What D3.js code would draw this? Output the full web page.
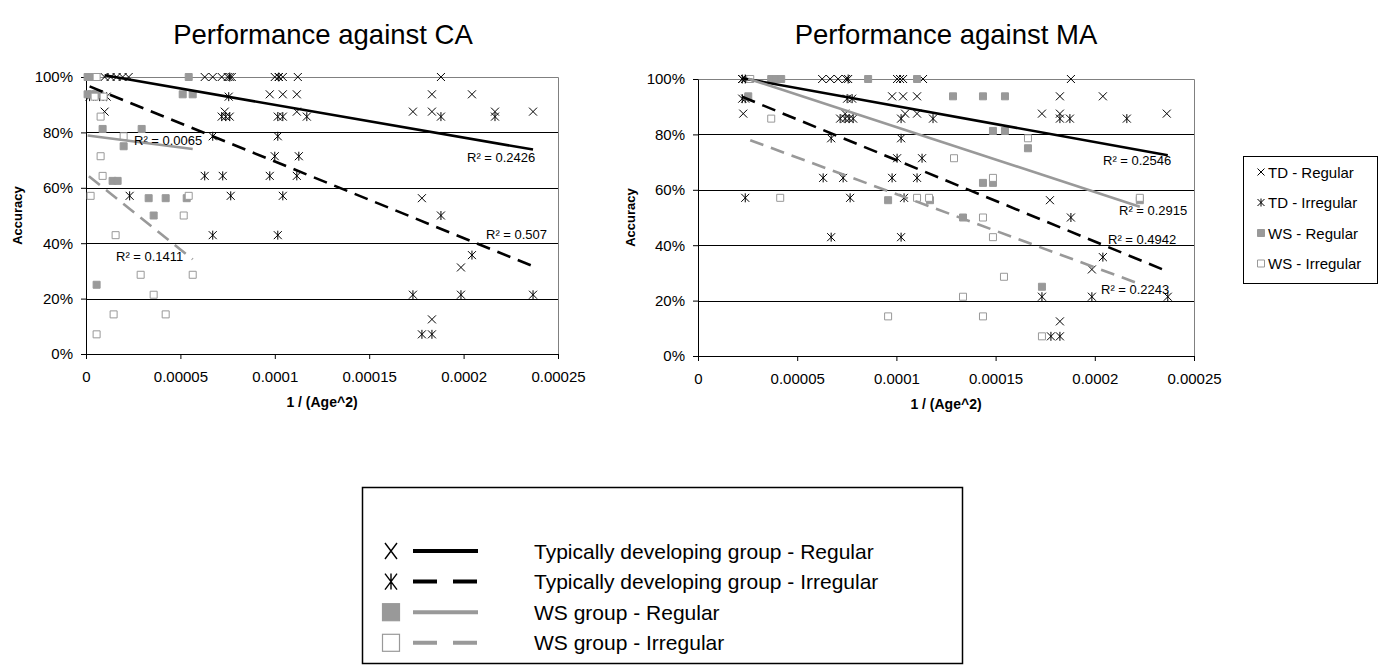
<!DOCTYPE html>
<html><head><meta charset="utf-8">
<script src="https://cdn.jsdelivr.net/npm/d3@7"></script>
<style>
body{margin:0;background:#fff}
svg{display:block}
text{font-family:"Liberation Sans",Arial,sans-serif;fill:#000}
</style>
</head><body>
<svg id="c" width="1389" height="671"></svg>
<script>
// ---------------- DATA ----------------
const chartTitles = ["Performance against CA", "Performance against MA"];
const xAxisTitle = "1 / (Age^2)";
const yAxisTitle = "Accuracy";
const xTicks = [0, 0.00005, 0.0001, 0.00015, 0.0002, 0.00025];
const xTickLabels = ["0", "0.00005", "0.0001", "0.00015", "0.0002", "0.00025"];
const yTicks = [0, 0.2, 0.4, 0.6, 0.8, 1];
const yTickLabels = ["0%", "20%", "40%", "60%", "80%", "100%"];
const seriesShort = ["TD - Regular", "TD - Irregular", "WS - Regular", "WS - Irregular"];
const seriesLong = ["Typically developing group - Regular", "Typically developing group - Irregular",
                    "WS group - Regular", "WS group - Irregular"];

// Performance against CA : [1/(age^2), accuracy]
const caTdRegular = [
  [0.986e-5,1],[1.304e-5,1],[1.622e-5,1],[1.941e-5,1],[2.259e-5,1],
  [6.288e-5,1],[6.712e-5,1],[7.189e-5,1],[7.507e-5,1],[7.719e-5,1],
  [9.999e-5,1],[10.211e-5,1],[10.424e-5,1],[11.219e-5,1],[18.800e-5,1],
  [9.734e-5,0.9375],[10.424e-5,0.9375],[11.166e-5,0.9375],[18.323e-5,0.9375],[20.443e-5,0.9375],
  [0.986e-5,0.875],[7.348e-5,0.875],[11.166e-5,0.875],[17.316e-5,0.875],[18.323e-5,0.875],[21.663e-5,0.875],[23.678e-5,0.875],
  [17.793e-5,0.5625],[19.860e-5,0.3125],[18.323e-5,0.125]
];
const caTdIrregular = [
  [7.613e-5,1],[10.211e-5,1],
  [0.191e-5,0.929],[0.721e-5,0.929],[1.092e-5,0.929],[7.560e-5,0.929],
  [7.189e-5,0.857],[7.401e-5,0.857],[7.613e-5,0.857],[10.158e-5,0.857],[10.424e-5,0.857],[11.696e-5,0.857],[18.800e-5,0.857],[21.663e-5,0.857],
  [6.712e-5,0.786],[10.158e-5,0.786],
  [9.999e-5,0.714],[11.272e-5,0.714],
  [6.288e-5,0.643],[7.242e-5,0.643],[9.734e-5,0.643],[11.166e-5,0.643],
  [2.312e-5,0.571],[7.666e-5,0.571],[10.424e-5,0.571],
  [18.800e-5,0.5],
  [6.712e-5,0.429],[10.158e-5,0.429],
  [20.443e-5,0.357],
  [17.316e-5,0.214],[19.860e-5,0.214],[23.678e-5,0.214],
  [17.793e-5,0.071],[18.323e-5,0.071]
];
const caWsRegular = [
  [0.085e-5,1],[0.297e-5,1],[0.456e-5,1],[5.440e-5,1],
  [0.085e-5,0.9375],[0.297e-5,0.9375],[0.509e-5,0.9375],[0.721e-5,0.9375],[5.122e-5,0.9375],[5.652e-5,0.9375],
  [0.880e-5,0.8125],[2.948e-5,0.8125],
  [1.994e-5,0.75],
  [1.410e-5,0.625],[1.675e-5,0.625],
  [3.319e-5,0.5625],[4.220e-5,0.5625],[5.334e-5,0.5625],
  [3.584e-5,0.5],
  [0.562e-5,0.25]
];
const caWsIrregular = [
  [0.562e-5,1],
  [0.456e-5,0.929],[0.933e-5,0.929],
  [0.774e-5,0.857],
  [1.994e-5,0.786],
  [0.774e-5,0.714],
  [0.880e-5,0.643],
  [0.244e-5,0.571],[5.440e-5,0.571],
  [5.175e-5,0.5],
  [1.569e-5,0.429],
  [2.895e-5,0.286],[5.652e-5,0.286],
  [3.584e-5,0.214],
  [1.463e-5,0.143],[4.220e-5,0.143],
  [0.562e-5,0.071]
];
// linear trendlines [xStart, yStart, xEnd, yEnd] and R^2
const caTrends = [
  [0.986e-5, 1.006, 23.678e-5, 0.738],
  [0.191e-5, 0.966, 23.678e-5, 0.317],
  [0.085e-5, 0.789, 5.652e-5, 0.740],
  [0.154e-5, 0.642, 5.652e-5, 0.342]
];
const caR2 = ["0.2426", "0.507", "0.0065", "0.1411"];

// Performance against MA
const maTdRegular = [
  [2.231e-5,1],[2.382e-5,1],[6.258e-5,1],[6.661e-5,1],[7.064e-5,1],[7.467e-5,1],
  [10.035e-5,1],[10.186e-5,1],[10.337e-5,1],[11.343e-5,1],[18.796e-5,1],
  [9.783e-5,0.9375],[10.337e-5,0.9375],[11.041e-5,0.9375],[18.242e-5,0.9375],[20.407e-5,0.9375],
  [2.281e-5,0.875],[7.416e-5,0.875],[10.437e-5,0.875],[11.041e-5,0.875],[17.336e-5,0.875],[18.242e-5,0.875],[23.628e-5,0.875],
  [17.739e-5,0.5625],[19.853e-5,0.3125],[18.242e-5,0.125]
];
const maTdIrregular = [
  [2.231e-5,1],[2.382e-5,1],[7.568e-5,1],
  [2.231e-5,0.929],[2.382e-5,0.929],[7.517e-5,0.929],[7.769e-5,0.929],
  [7.165e-5,0.857],[7.416e-5,0.857],[7.618e-5,0.857],[7.819e-5,0.857],[10.236e-5,0.857],[11.846e-5,0.857],[18.242e-5,0.857],[18.745e-5,0.857],[21.615e-5,0.857],
  [6.712e-5,0.786],[10.236e-5,0.786],
  [10.035e-5,0.714],[11.293e-5,0.714],
  [6.309e-5,0.643],[7.316e-5,0.643],[9.783e-5,0.643],[11.041e-5,0.643],
  [2.382e-5,0.571],[7.668e-5,0.571],[10.387e-5,0.571],
  [18.796e-5,0.5],
  [6.712e-5,0.429],[10.236e-5,0.429],
  [20.407e-5,0.357],
  [17.336e-5,0.214],[19.853e-5,0.214],[23.679e-5,0.214],
  [17.789e-5,0.071],[18.242e-5,0.071]
];
const maWsRegular = [
  [3.691e-5,1],[3.943e-5,1],[4.194e-5,1],[8.575e-5,1],[11.041e-5,1],
  [2.533e-5,0.9375],[12.853e-5,0.9375],[14.364e-5,0.9375],[15.473e-5,0.9375],
  [14.867e-5,0.8125],[15.473e-5,0.8125],
  [16.631e-5,0.75],
  [14.364e-5,0.625],[14.867e-5,0.625],
  [9.582e-5,0.5625],[11.695e-5,0.5625],[22.269e-5,0.5625],
  [13.357e-5,0.5],
  [17.336e-5,0.25]
];
const maWsIrregular = [
  [2.633e-5,1],
  [3.691e-5,0.857],
  [16.631e-5,0.786],
  [12.904e-5,0.714],
  [14.867e-5,0.643],
  [4.144e-5,0.571],[11.041e-5,0.571],[11.645e-5,0.571],[22.269e-5,0.571],
  [14.364e-5,0.5],
  [14.867e-5,0.429],
  [15.422e-5,0.286],
  [13.357e-5,0.214],
  [9.582e-5,0.143],[14.364e-5,0.143],
  [17.336e-5,0.071]
];
const maTrends = [
  [2.231e-5, 1.003, 23.679e-5, 0.725],
  [2.215e-5, 0.936, 23.679e-5, 0.305],
  [2.533e-5, 1.001, 22.269e-5, 0.539],
  [2.633e-5, 0.779, 22.269e-5, 0.260]
];
const maR2 = ["0.2546", "0.4942", "0.2915", "0.2243"];

// ---------------- STYLE / LAYOUT ----------------
const GREY = "#999999";
const seriesStyle = [
  {marker:"x",    color:"#000", dash:null},
  {marker:"star", color:"#000", dash:"14,8"},
  {marker:"fill", color:GREY,   dash:null},
  {marker:"open", color:GREY,   dash:"14,8"}
];
const charts = [
  {title:chartTitles[0], series:[caTdRegular, caTdIrregular, caWsRegular, caWsIrregular], trends:caTrends, r2:caR2,
   left:86, right:558, bottom:354, top:77, titleX:323, yTitleX:17,
   r2Pos:[[467,162],[486,239],[134,145],[116,261]]},
  {title:chartTitles[1], series:[maTdRegular, maTdIrregular, maWsRegular, maWsIrregular], trends:maTrends, r2:maR2,
   left:698, right:1194, bottom:356, top:79, titleX:946, yTitleX:630,
   r2Pos:[[1103,165],[1108,244],[1119,215],[1101,294]]}
];

const svg = d3.select("#c");

function markerPath(type, s) {
  if (type === "x") return `M${-s},${-s}L${s},${s}M${-s},${s}L${s},${-s}`;
  if (type === "star") return `M${-s},${-s}L${s},${s}M${-s},${s}L${s},${-s}M0,${-s-0.5}L0,${s+0.5}`;
  return `M${-s},${-s}H${s}V${s}H${-s}Z`;
}
function drawMarker(sel, type, s) {
  sel.append("path").attr("d", markerPath(type, s))
    .attr("fill", type === "fill" ? GREY : type === "open" ? "#fff" : "none")
    .attr("stroke", type === "x" || type === "star" ? "#000" : GREY)
    .attr("stroke-width", 1);
}

charts.forEach(cfg => {
  const x = d3.scaleLinear().domain([0, 0.00025]).range([cfg.left, cfg.right]);
  const y = d3.scaleLinear().domain([0, 1]).range([cfg.bottom, cfg.top]);
  const g = svg.append("g");

  // gridlines
  g.selectAll("line.grid").data(yTicks.filter(d => d > 0 && d < 1)).join("line")
    .attr("x1", cfg.left).attr("x2", cfg.right)
    .attr("y1", d => Math.round(y(d)) + 0.5).attr("y2", d => Math.round(y(d)) + 0.5)
    .attr("stroke", "#000").attr("stroke-width", 1);
  // plot border top/right
  g.append("path").attr("d", `M${cfg.left},${y(1) + 0.5}H${cfg.right + 0.5}V${cfg.bottom}`)
    .attr("fill", "none").attr("stroke", "#808080").attr("stroke-width", 1);

  // axes
  const xa = g.append("g").attr("transform", `translate(0,${cfg.bottom})`)
    .call(d3.axisBottom(x).tickValues(xTicks).tickFormat((d, i) => xTickLabels[i])
      .tickSizeInner(5).tickSizeOuter(0).tickPadding(12));
  const ya = g.append("g").attr("transform", `translate(${cfg.left},0)`)
    .call(d3.axisLeft(y).tickValues(yTicks).tickFormat((d, i) => yTickLabels[i])
      .tickSizeInner(5).tickSizeOuter(0).tickPadding(8));
  [xa, ya].forEach(a => {
    a.attr("font-size", null).attr("font-family", null);
    a.selectAll("text").style("font-size", "15px");
    a.selectAll("path.domain,line").attr("stroke", "#000");
  });

  // points
  cfg.series.forEach((pts, si) => {
    const st = seriesStyle[si];
    const s = st.marker === "x" || st.marker === "star" ? 4 : 3.5;
    g.append("g").selectAll("g").data(pts).join("g")
      .attr("transform", d => `translate(${x(d[0])},${y(d[1])})`)
      .each(function () { drawMarker(d3.select(this), st.marker, s); });
  });

  // trendlines
  cfg.trends.forEach((t, si) => {
    const st = seriesStyle[si];
    g.append("line")
      .attr("x1", x(t[0])).attr("y1", y(t[1])).attr("x2", x(t[2])).attr("y2", y(t[3]))
      .attr("stroke", st.color).attr("stroke-width", 2.6)
      .attr("stroke-dasharray", st.dash);
  });

  // R^2 labels
  cfg.r2.forEach((r, si) => {
    g.append("text").attr("x", cfg.r2Pos[si][0]).attr("y", cfg.r2Pos[si][1])
      .style("font-size", "13px").text(`R² = ${r}`);
  });

  // titles
  svg.append("text").attr("x", cfg.titleX).attr("y", 44).attr("text-anchor", "middle")
    .style("font-size", "27.5px").text(cfg.title);
  svg.append("text").attr("x", (cfg.left + cfg.right) / 2).attr("y", cfg.bottom + 53)
    .attr("text-anchor", "middle").style("font-size", "14px").style("font-weight", "bold").text(xAxisTitle);
  svg.append("text").attr("transform", `translate(${cfg.yTitleX + 5},${(cfg.top + cfg.bottom) / 2}) rotate(-90)`)
    .attr("text-anchor", "middle").style("font-size", "13px").style("font-weight", "bold").text(yAxisTitle);
});

// right legend
const rl = svg.append("g");
rl.append("rect").attr("x", 1243.5).attr("y", 156.5).attr("width", 134).attr("height", 127)
  .attr("fill", "#fff").attr("stroke", "#000").attr("stroke-width", 1);
seriesShort.forEach((name, i) => {
  const cy = 172 + i * 30.5;
  const mg = rl.append("g").attr("transform", `translate(1261,${cy})`);
  const st = seriesStyle[i];
  drawMarker(mg, st.marker, 3.5);
  rl.append("text").attr("x", 1268).attr("y", cy + 5.5).style("font-size", "15px").text(name);
});

// bottom legend
const bl = svg.append("g");
bl.append("rect").attr("x", 362.5).attr("y", 487.5).attr("width", 600).attr("height", 176)
  .attr("fill", "#fff").attr("stroke", "#000").attr("stroke-width", 1.5);
seriesLong.forEach((name, i) => {
  const cy = 551 + i * 30.6;
  const st = seriesStyle[i];
  const mg = bl.append("g").attr("transform", `translate(391,${cy})`);
  if (st.marker === "x" || st.marker === "star") {
    let d = "M-6,-8L6,8M-6,8L6,-8";
    if (st.marker === "star") d += "M0,-8L0,8";
    mg.append("path").attr("d", d).attr("stroke", "#000").attr("stroke-width", 1.4).attr("fill", "none");
  } else {
    mg.append("rect").attr("x", -8.5).attr("y", -8.5).attr("width", 17).attr("height", 17)
      .attr("fill", st.marker === "fill" ? GREY : "#fff").attr("stroke", GREY).attr("stroke-width", 1.2);
  }
  bl.append("line").attr("x1", 413).attr("x2", 478).attr("y1", cy).attr("y2", cy)
    .attr("stroke", st.color).attr("stroke-width", 4)
    .attr("stroke-dasharray", st.dash ? "24,16" : null);
  bl.append("text").attr("x", 534).attr("y", cy + 7.5).style("font-size", "21px").text(name);
});
</script>
</body></html>
